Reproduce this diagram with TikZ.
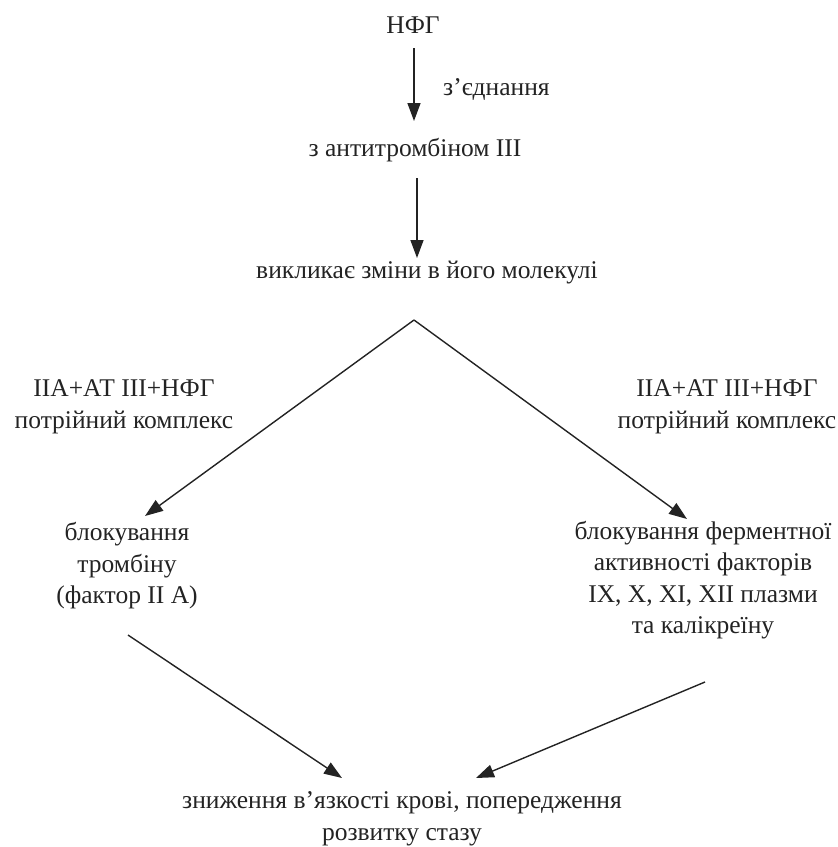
\documentclass[tikz,border=0pt]{standalone}
\usepackage{fontspec}
\setmainfont{Liberation Serif}
\usetikzlibrary{arrows.meta}
\definecolor{ink}{RGB}{35,35,35}
\begin{document}
\begin{tikzpicture}[x=1pt,y=-1pt,
  lbl/.style={inner sep=0pt, align=center, text=ink,
              font=\fontsize{25.5}{31.5}\selectfont},
  arr/.style={draw=ink, line width=1.4pt,
              -{Triangle[length=18pt,width=13pt]}}]
\useasboundingbox (0,0) rectangle (838,847);

% text blocks
\node[lbl] (nfg) at (413,25) {НФГ};
\node[lbl, anchor=base west] (join) at (443,95) {з’єднання};
\node[lbl] (at3) at (415,150) {з антитромбіном ІІІ};
\node[lbl] (chg) at (427,273) {викликає зміни в його молекулі};
\node[lbl] (cxl) at (124,407) {ІІА+АТ ІІІ+НФГ\\потрійний комплекс};
\node[lbl] (cxr) at (727,407) {ІІА+АТ ІІІ+НФГ\\потрійний комплекс};
\node[lbl] (blkl) at (127,566) {блокування\\тромбіну\\(фактор ІІ А)};
\node[lbl] (blkr) at (703,580) {блокування ферментної\\активності факторів\\IX, X, XI, XII плазми\\та калікреїну};
\node[lbl] (res) at (402,819) {зниження в’язкості крові, попередження\\розвитку стазу};

% connector end points
\coordinate (nfgout) at (414,48);
\coordinate (at3in)  at (414,121);
\coordinate (at3out) at (417,178);
\coordinate (chgin)  at (417,258);
\coordinate (apex)   at (414,320);
\coordinate (blklin) at (145,516);
\coordinate (blkrin) at (687,519);
\coordinate (blklout) at (128,635);
\coordinate (blkrout) at (705,682);
\coordinate (resinl) at (342,778);
\coordinate (resinr) at (476,778);

% connectors
\draw[arr] (nfgout) -- (at3in);
\draw[arr] (at3out) -- (chgin);
\draw[arr] (apex) -- (blklin);
\draw[arr] (apex) -- (blkrin);
\draw[arr] (blklout) -- (resinl);
\draw[arr] (blkrout) -- (resinr);
\end{tikzpicture}
\end{document}
